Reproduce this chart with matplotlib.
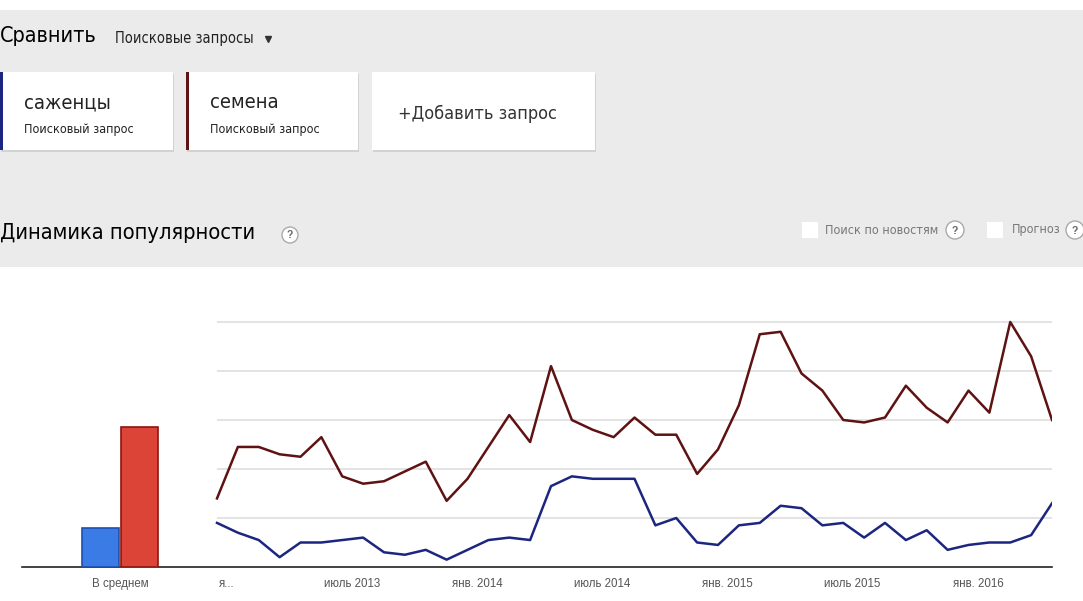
import matplotlib
matplotlib.use("Agg")
import matplotlib.pyplot as plt
from matplotlib.patches import Rectangle, Circle

# --- данные (месячные, янв. 2013 .. май 2016) ---
semena = [28, 49, 49, 46, 45, 53, 37, 34, 35, 39, 43, 27, 36, 49, 62, 51, 82,
          60, 56, 53, 61, 54, 54, 38, 48, 66, 95, 96, 79, 72, 60, 59, 61, 74,
          65, 59, 72, 63, 100, 86, 60]
sazhentsy = [18, 14, 11, 4, 10, 10, 11, 12, 6, 5, 7, 3, 7, 11, 12, 11, 33,
             37, 36, 36, 36, 17, 20, 10, 9, 17, 18, 25, 24, 17, 18, 12, 18, 11,
             15, 7, 9, 10, 10, 13, 26]
avg_labels = ["саженцы", "семена"]
avg_values = [16, 57]
tick_idx = [0, 6, 12, 18, 24, 30, 36]
tick_labels = ["я...", "июль 2013", "янв. 2014", "июль 2014", "янв. 2015",
               "июль 2015", "янв. 2016"]

BLUE_LINE = "#1c2680"
RED_LINE = "#5e1212"
BLUE_BAR = "#3b7be6"
RED_BAR = "#dc4437"

plt.rcParams["font.family"] = ["Liberation Sans", "DejaVu Sans"]
UI = dict(family="DejaVu Sans", fontstretch="condensed")

W, H = 1083, 601
fig = plt.figure(figsize=(W / 100, H / 100), dpi=100)
fig.patch.set_facecolor("white")

# --- шапка (пиксельные координаты) ---
ui = fig.add_axes([0, 0, 1, 1])
ui.set_xlim(0, W)
ui.set_ylim(H, 0)
ui.axis("off")
ui.add_patch(Rectangle((0, 10), W, 257, color="#ebebeb", lw=0))

cards = [(0, 173, BLUE_LINE), (186, 172, RED_LINE), (372, 223, None)]
for x0, w, edge in cards:
    ui.add_patch(Rectangle((x0 + 1, 74), w, 78, color="#d2d2d2", lw=0))
    ui.add_patch(Rectangle((x0, 72), w, 78, color="white", lw=0))
    if edge:
        ui.add_patch(Rectangle((x0, 72), 3, 78, color=edge, lw=0))

ui.text(0, 36, "Сравнить", fontsize=15.5, color="#000",
        va="center", ha="left", **UI)
ui.text(115, 38, "Поисковые запросы", fontsize=10.5,
        color="#222", va="center", ha="left", **UI)
ui.plot([268], [39], marker="v", ms=5, color="#333")

for x0, name in zip([24, 210], avg_labels):
    ui.text(x0, 103, name, fontsize=14.5, color="#222",
            va="center", ha="left", **UI)
    ui.text(x0, 129, "Поисковый запрос", fontsize=9,
            color="#222", va="center", ha="left", **UI)
ui.text(398, 114, "+Добавить запрос", fontsize=13,
        color="#333", va="center", ha="left", **UI)

ui.text(0, 233, "Динамика популярности", fontsize=15.7,
        color="#000", va="center", ha="left", **UI)


def qmark(x, y, r=8):
    ui.add_patch(Circle((x, y), r, facecolor="white", edgecolor="#aaaaaa", lw=1))
    ui.text(x, y + 0.5, "?", fontsize=7.5, color="#666", ha="center",
            va="center", fontweight="bold")


qmark(290, 235)
ui.add_patch(Rectangle((802, 222), 16, 16, color="white", lw=0))
ui.text(825, 230, "Поиск по новостям", fontsize=9,
        color="#777", va="center", ha="left", **UI)
qmark(955, 230, 9)
ui.add_patch(Rectangle((987, 222), 16, 16, color="white", lw=0))
ui.text(1012, 230, "Прогноз", fontsize=9,
        color="#777", va="center", ha="left", **UI)
qmark(1075, 230, 9)

# --- график ---
px = 20.875          # пикселей на месяц
x_left, x0_px, y_base, y_top = 22, 217, 567, 300
ax = fig.add_axes([x_left / W, (H - y_base) / H,
                   (1052 - x_left) / W, (y_base - y_top) / H])
ax.set_xlim((x_left - x0_px) / px, 40)
ax.set_ylim(0, (y_base - y_top) / 2.45)
for s in ["top", "right", "left"]:
    ax.spines[s].set_visible(False)
ax.spines["bottom"].set_color("#222")
ax.spines["bottom"].set_linewidth(1.2)

ax.hlines([20, 40, 60, 80, 100], 0, 40, color="#dedede", lw=1.2, zorder=1)

months = list(range(len(semena)))
ax.plot(months, sazhentsy, color=BLUE_LINE, lw=1.8, zorder=3)
ax.plot(months, semena, color=RED_LINE, lw=1.8, zorder=3)

bar_w = 37 / px
bar_x = [(100.5 - x0_px) / px, (139.5 - x0_px) / px]
ax.bar(bar_x, avg_values, width=bar_w, color=[BLUE_BAR, RED_BAR],
       edgecolor=["#1d4fb0", "#8e1510"], lw=1.2, zorder=3)

xt = [(120 - x0_px) / px] + [i + 0.45 for i in tick_idx]
ax.set_xticks(xt)
ax.set_xticklabels(["В среднем"] + tick_labels, fontsize=8.3, color="#555")
ax.tick_params(axis="x", length=0, pad=8)
ax.set_yticks([])

fig.savefig("out.png", dpi=100)
